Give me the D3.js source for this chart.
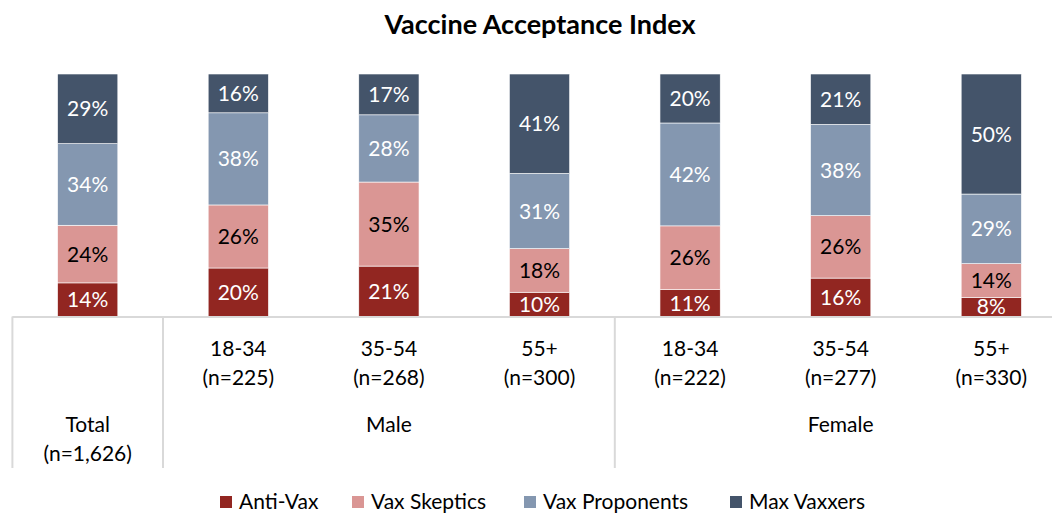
<!DOCTYPE html>
<html>
<head>
<meta charset="utf-8">
<script src="https://cdn.jsdelivr.net/npm/d3@7"></script>
<style>
  body { margin: 0; background: #fff; }
  text { font-family: Lato, "Open Sans", sans-serif; }
</style>
</head>
<body>
<div id="chart-area"></div>
<script>
var width = 1052, height = 513;

// data
var categories = ["Total", "M 18-34", "M 35-54", "M 55+", "F 18-34", "F 35-54", "F 55+"];
var ageLabels = ["", "18-34", "35-54", "55+", "18-34", "35-54", "55+"];
var sampleLabels = ["(n=1,626)", "(n=225)", "(n=268)", "(n=300)", "(n=222)", "(n=277)", "(n=330)"];
var groups = ["Total", "Male", "Female"];
var groupSpans = [[0, 0], [1, 3], [4, 6]];
var series = ["Anti-Vax", "Vax Skeptics", "Vax Proponents", "Max Vaxxers"];
var antiVax = [14, 20, 21, 10, 11, 16, 8];
var vaxSkeptics = [24, 26, 35, 18, 26, 26, 14];
var vaxProponents = [34, 38, 28, 31, 42, 38, 29];
var maxVaxxers = [29, 16, 17, 41, 20, 21, 50];
var colors = ["#922621", "#DA9694", "#8497B0", "#44546A"];
var labelColors = ["#fff", "#000", "#fff", "#fff"];

var rows = categories.map(function(c, i) {
    return {
        cat: c,
        "Anti-Vax": antiVax[i],
        "Vax Skeptics": vaxSkeptics[i],
        "Vax Proponents": vaxProponents[i],
        "Max Vaxxers": maxVaxxers[i]
    };
});

var svg = d3.select("#chart-area").append("svg")
    .attr("width", width)
    .attr("height", height);

var x = d3.scaleBand().domain(categories).range([12.4, 1066.6])
    .paddingInner(0.6).paddingOuter(0.3);
var y = d3.scaleLinear().domain([0, 1]).range([316.5, 74]);

// 100% stacked like the original
var stacked = d3.stack().keys(series).offset(d3.stackOffsetExpand)(rows);

var layers = svg.selectAll("g.layer")
    .data(stacked)
  .enter().append("g")
    .attr("class", "layer")
    .attr("fill", function(d, i) { return colors[i]; });

layers.selectAll("rect")
    .data(function(d) { return d; })
  .enter().append("rect")
    .attr("x", function(d) { return x(d.data.cat); })
    .attr("y", function(d) { return y(d[1]); })
    .attr("width", x.bandwidth())
    .attr("height", function(d) { return y(d[0]) - y(d[1]); })
    .attr("stroke", "#fff")
    .attr("stroke-width", 0.6);

layers.selectAll("text")
    .data(function(d, i) { return d.map(function(p) { return { p: p, s: i, key: d.key }; }); })
  .enter().append("text")
    .attr("x", function(d) { return x(d.p.data.cat) + x.bandwidth() / 2; })
    .attr("y", function(d) { return (y(d.p[0]) + y(d.p[1])) / 2; })
    .attr("dy", "0.36em")
    .attr("text-anchor", "middle")
    .attr("fill", function(d) { return labelColors[d.s]; })
    .style("font-size", "21px")
    .text(function(d) { return d.p.data[d.key] + "%"; });

// category axis with group dividers
var axisColor = "#d9d9d9";
var step = x.step();
svg.append("line")
    .attr("x1", 12.4).attr("x2", width)
    .attr("y1", y(0) + 0.5).attr("y2", y(0) + 0.5)
    .attr("stroke", axisColor).attr("stroke-width", 2);

groupSpans.forEach(function(s) {
    var gx = x(categories[s[0]]) - (step - x.bandwidth()) / 2;
    svg.append("line")
        .attr("x1", gx).attr("x2", gx)
        .attr("y1", y(0)).attr("y2", 468)
        .attr("stroke", axisColor).attr("stroke-width", 2);
});

var catLabels = svg.append("g").style("font-size", "21px").attr("fill", "#000");

categories.forEach(function(c, i) {
    if (!ageLabels[i]) return;
    var cx = x(c) + x.bandwidth() / 2;
    catLabels.append("text").attr("x", cx).attr("y", 348).attr("dy", "0.36em")
        .attr("text-anchor", "middle").text(ageLabels[i]);
    catLabels.append("text").attr("x", cx).attr("y", 377).attr("dy", "0.36em")
        .attr("text-anchor", "middle").text(sampleLabels[i]);
});

groups.forEach(function(gname, gi) {
    var s = groupSpans[gi];
    var cx = (x(categories[s[0]]) + x(categories[s[1]]) + x.bandwidth()) / 2;
    catLabels.append("text").attr("x", cx).attr("y", 424).attr("dy", "0.36em")
        .attr("text-anchor", "middle").text(gname);
    if (gname == "Total") {
        catLabels.append("text").attr("x", cx).attr("y", 453).attr("dy", "0.36em")
            .attr("text-anchor", "middle").text(sampleLabels[0]);
    }
});

// title
svg.append("text")
    .attr("x", 540).attr("y", 24).attr("dy", "0.36em")
    .attr("text-anchor", "middle")
    .style("font-size", "27px")
    .style("font-weight", "bold")
    .text("Vaccine Acceptance Index");

// legend
var legendX = [220, 352, 524, 730];
var legend = svg.append("g").style("font-size", "21px");
series.forEach(function(s, i) {
    legend.append("rect")
        .attr("x", legendX[i]).attr("y", 496)
        .attr("width", 12).attr("height", 12)
        .attr("fill", colors[i]);
    legend.append("text")
        .attr("x", legendX[i] + 19).attr("y", 501).attr("dy", "0.36em")
        .text(s);
});
</script>
</body>
</html>
